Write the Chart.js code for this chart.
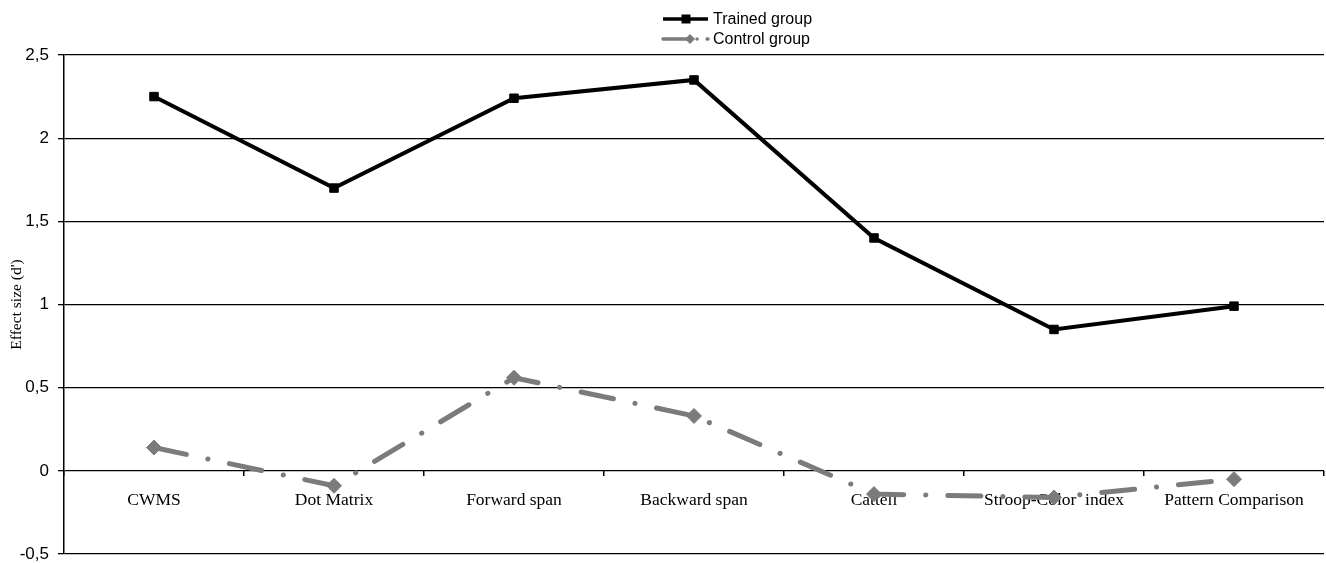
<!DOCTYPE html>
<html>
<head>
<meta charset="utf-8">
<script src="https://cdn.jsdelivr.net/npm/chart.js@4/dist/chart.umd.min.js"></script>
<style>
  html, body { margin: 0; padding: 0; background: #fff; }
  #wrap { width: 1326px; height: 563px; position: relative; }
</style>
</head>
<body>
<div id="wrap"><canvas id="effect-chart"></canvas></div>
<script>
// Datos
const categories = ['CWMS', 'Dot Matrix', 'Forward span', 'Backward span', 'Cattell', 'Stroop-Color  index', 'Pattern Comparison'];
const trainedValues = [2.25, 1.70, 2.24, 2.35, 1.40, 0.85, 0.99];
const controlValues = [0.14, -0.09, 0.56, 0.33, -0.14, -0.16, -0.05];
const seriesLabels = ['Trained group', 'Control group'];
const yMin = -0.5;
const yMax = 2.5;
const yStep = 0.5;

const GRAY = '#7b7b7b';

// Leyenda propia: línea + marcador, como en el original
const lineLegend = {
    id: 'lineLegend',
    afterDraw(chart) {
        const ctx = chart.ctx;
        const x0 = chart.width / 2;
        chart.data.datasets.forEach(function(ds, i) {
            const y = 19 + i * 20;
            ctx.save();
            ctx.strokeStyle = ds.borderColor;
            ctx.lineWidth = 3.5;
            ctx.lineCap = ds.borderCapStyle || 'butt';
            ctx.setLineDash(ds.legendDash || []);
            ctx.beginPath();
            ctx.moveTo(x0, y);
            ctx.lineTo(x0 + 45, y);
            ctx.stroke();
            ctx.setLineDash([]);
            ctx.fillStyle = ds.pointBackgroundColor;
            ctx.beginPath();
            if (ds.pointStyle === 'rect') {
                ctx.rect(x0 + 23 - 4.5, y - 4.5, 9, 9);
            } else {
                const cx = x0 + 27, r = 5;
                ctx.moveTo(cx, y - r); ctx.lineTo(cx + r, y); ctx.lineTo(cx, y + r); ctx.lineTo(cx - r, y);
                ctx.closePath();
            }
            ctx.fill();
            ctx.fillStyle = '#000';
            ctx.font = '16px "Liberation Sans", Arial, sans-serif';
            ctx.textBaseline = 'middle';
            ctx.fillText(ds.label, x0 + 50, y + 1);
            ctx.restore();
        });
    }
};

const ctx = document.getElementById('effect-chart').getContext('2d');
new Chart(ctx, {
    type: 'line',
    data: {
        labels: categories,
        datasets: [{
            label: seriesLabels[0],
            data: trainedValues,
            borderColor: '#000',
            backgroundColor: '#000',
            borderWidth: 4,
            pointStyle: 'rect',
            pointRadius: 6,
            pointBackgroundColor: '#000',
            pointBorderColor: '#000',
            pointBorderWidth: 1,
            tension: 0
        }, {
            label: seriesLabels[1],
            data: controlValues,
            borderColor: GRAY,
            backgroundColor: GRAY,
            borderWidth: 5,
            borderCapStyle: 'round',
            borderDash: [33, 22, 0.1, 22],
            legendDash: [24, 10, 0.1, 10],
            pointStyle: 'rectRot',
            pointRadius: 7.5,
            pointBackgroundColor: GRAY,
            pointBorderColor: GRAY,
            pointBorderWidth: 1,
            tension: 0
        }]
    },
    options: {
        responsive: true,
        maintainAspectRatio: false,
        animation: false,
        layout: {
            autoPadding: false,
            padding: { top: 55, right: 2, bottom: 9, left: 0 }
        },
        plugins: {
            legend: { display: false },
            tooltip: { enabled: false }
        },
        scales: {
            x: {
                type: 'category',
                position: { y: 0 },
                offset: true,
                afterFit: function(scale) {
                    scale.paddingLeft = 0;
                    scale.paddingRight = 0;
                },
                grid: {
                    offset: true,
                    drawOnChartArea: false,
                    drawTicks: true,
                    tickLength: 5,
                    color: '#000',
                    lineWidth: 1.5
                },
                border: { display: false },
                ticks: {
                    color: '#000',
                    padding: 14,
                    maxRotation: 0,
                    autoSkip: false,
                    font: { family: '"Liberation Serif", "Times New Roman", serif', size: 17.5 }
                }
            },
            y: {
                min: yMin,
                max: yMax,
                afterFit: function(scale) {
                    scale.width = 64;
                    scale.paddingTop = 0;
                    scale.paddingBottom = 0;
                },
                grid: {
                    color: '#000',
                    lineWidth: 1.3,
                    drawTicks: true,
                    tickLength: 6
                },
                border: { display: true, color: '#000', width: 1.5 },
                ticks: {
                    stepSize: yStep,
                    color: '#000',
                    padding: 9,
                    font: { family: '"Liberation Sans", Arial, sans-serif', size: 17 },
                    callback: function(value) {
                        return String(value).replace('.', ',');
                    }
                },
                title: {
                    display: true,
                    text: "Effect size (d')",
                    color: '#000',
                    padding: { top: 8, bottom: 0 },
                    font: { family: '"Liberation Serif", "Times New Roman", serif', size: 15.5 }
                }
            }
        }
    },
    plugins: [lineLegend]
});
</script>
</body>
</html>
